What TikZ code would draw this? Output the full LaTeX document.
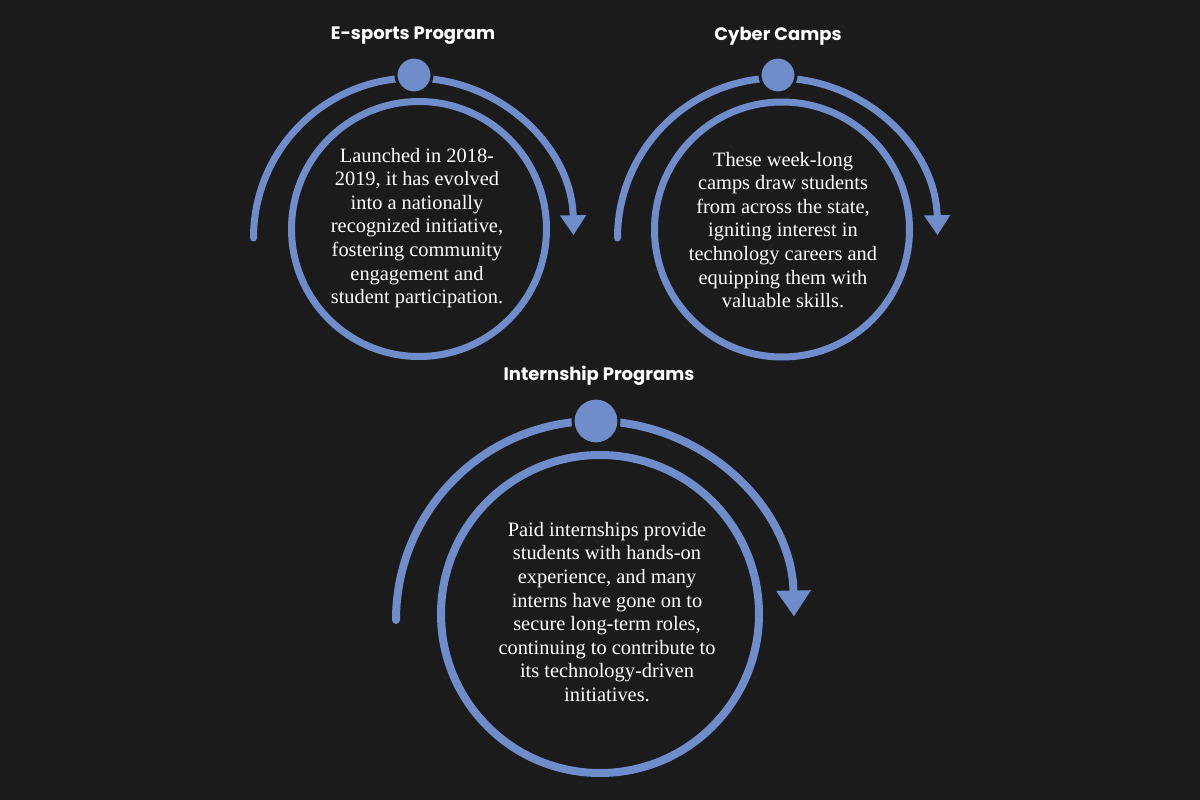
\documentclass[tikz,border=0pt]{standalone}
\usepackage{fontspec}
\setmainfont{Liberation Serif}
\newfontfamily\headfont{Poppins}
\usetikzlibrary{arrows.meta}
\definecolor{bgdark}{RGB}{27,27,27}
\definecolor{ringblue}{RGB}{111,140,203}

\begin{document}
\begin{tikzpicture}[x=1pt,y=1pt,
    ring/.style={draw=ringblue,line width=7pt,line cap=round},
    hub/.style={circle,fill=ringblue,draw=bgdark,line width=3pt,inner sep=0pt},
    title/.style={text=white,font=\headfont\bfseries\fontsize{18}{20}\selectfont},
    bodyring/.style={circle,draw=ringblue,line width=7pt,inner sep=0pt},
    bodytext/.style={text=white,align=center,font=\fontsize{20.4}{23.6}\selectfont}]
\fill[bgdark] (0,0) rectangle (1200,-800);
\useasboundingbox (0,0) rectangle (1200,-800);

% E-sports
\coordinate (e1start) at (253.5,-238);
\draw[ring,-{Triangle[width=25pt,length=20pt]}] (e1start) arc[start angle=180,end angle=1,radius=160pt];
\node[bodyring,minimum size=255pt] (e1ring) at (419,-229) {};
\node[bodytext] (e1text) at (417,-228) {Launched in 2018-\\2019, it has evolved\\into a nationally\\recognized initiative,\\fostering community\\engagement and\\student participation.};
\node[hub,minimum size=36pt] (e1hub) at (414,-75) {};
\node[title] (e1title) at (413,-36) {E-sports Program};

% cyber camps
\coordinate (c2start) at (617.5,-238);
\draw[ring,-{Triangle[width=25pt,length=20pt]}] (c2start) arc[start angle=180,end angle=1,radius=160pt];
\node[bodyring,minimum size=255pt] (c2ring) at (782,-229.5) {};
\node[bodytext] (c2text) at (783,-230) {These week-long\\camps draw students\\from across the state,\\igniting interest in\\technology careers and\\equipping them with\\valuable skills.};
\node[hub,minimum size=36pt] (c2hub) at (778,-75) {};
\node[title] (c2title) at (778,-36) {Cyber Camps};

% internships
\coordinate (i3start) at (396,-620);
\draw[ring,line width=8pt,-{Triangle[width=33pt,length=26pt]}] (i3start) arc[start angle=180,end angle=1,radius=199pt];
\node[bodyring,line width=8pt,minimum size=318pt] (i3ring) at (600,-614) {};
\node[bodytext] (i3text) at (607,-612) {Paid internships provide\\students with hands-on\\experience, and many\\interns have gone on to\\secure long-term roles,\\continuing to contribute to\\its technology-driven\\initiatives.};
\node[hub,minimum size=46pt] (i3hub) at (596,-421) {};
\node[title] (i3title) at (599,-376) {Internship Programs};
\end{tikzpicture}
\end{document}
